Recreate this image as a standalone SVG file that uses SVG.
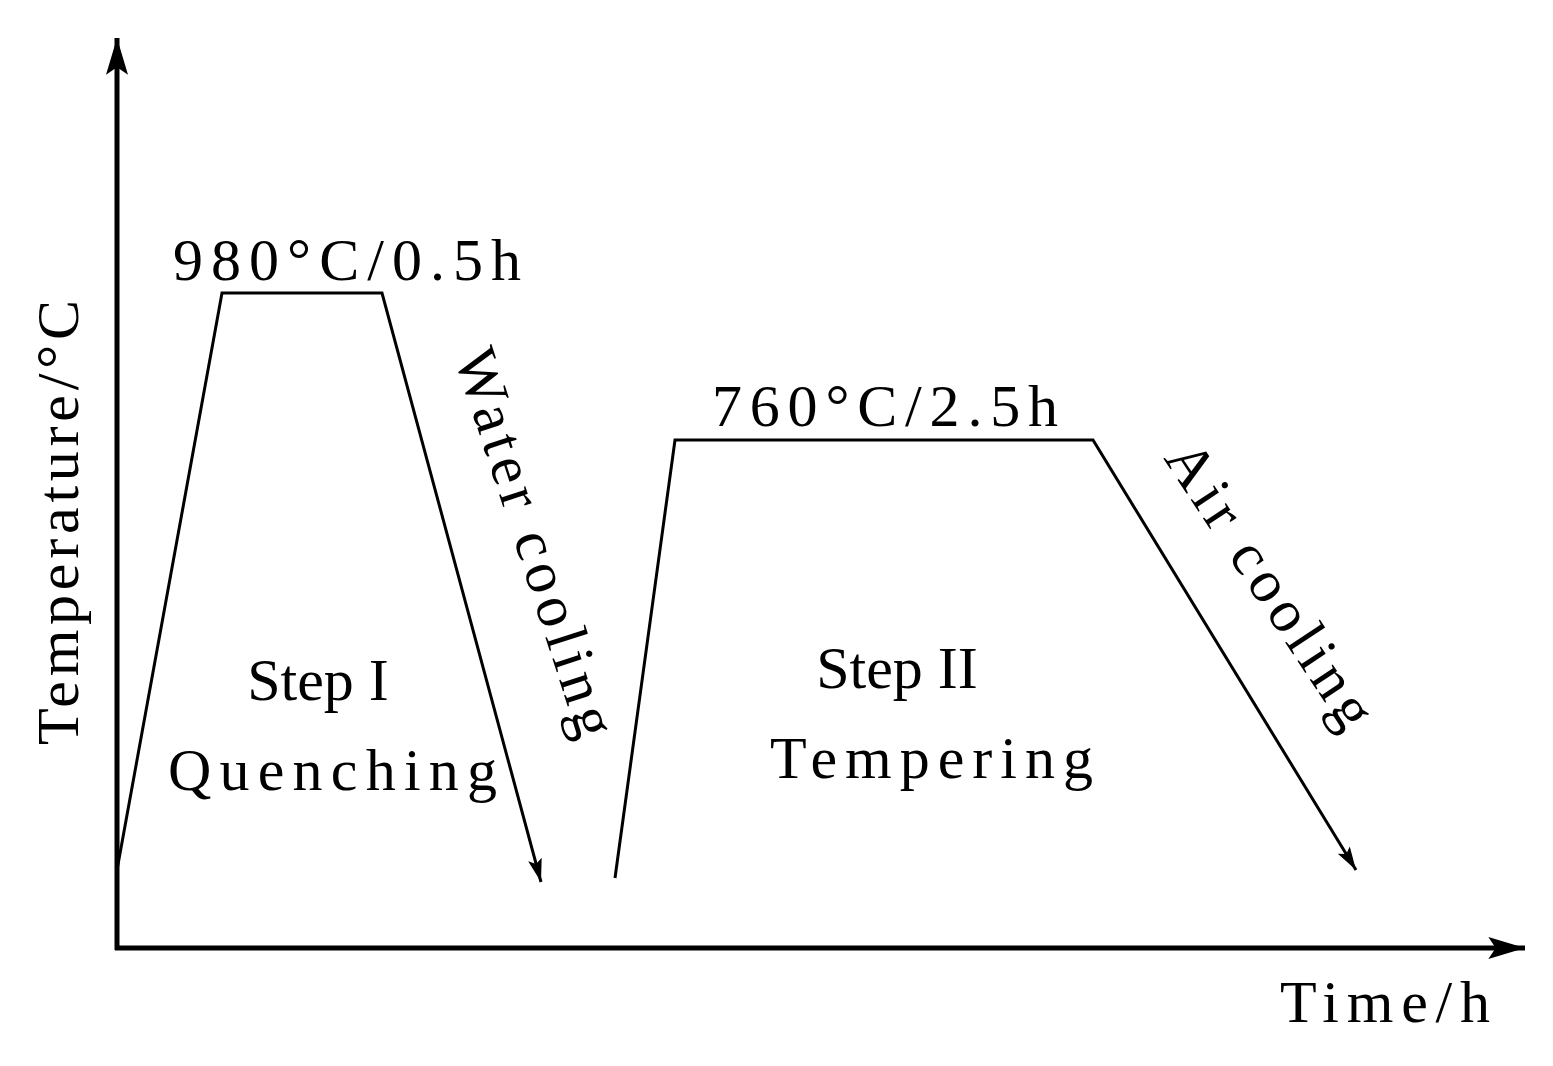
<svg xmlns="http://www.w3.org/2000/svg" width="1553" height="1066" viewBox="0 0 1553 1066">
<style>
text{font-family:"Liberation Serif","Times New Roman",serif;font-size:60px;fill:#000}
.ax{stroke:#000;stroke-width:5;fill:none}
.ln{stroke:#000;stroke-width:3;fill:none}
</style>
<defs>
<marker id="big" markerWidth="10" markerHeight="6" refX="9" refY="3" orient="auto" markerUnits="userSpaceOnUse" viewBox="0 0 10 6"><path d="M0,0 L10,3 L0,6 L3,3 Z" fill="#000"/></marker>
<marker id="sm" viewBox="0 0 10 6" refX="10" refY="3" markerWidth="26" markerHeight="14" orient="auto" markerUnits="userSpaceOnUse"><path d="M0,0 L10,3 L0,6 L2,3 Z" fill="#000"/></marker>
<marker id="axa" viewBox="0 0 10 6" refX="10" refY="3" markerWidth="80" markerHeight="22" orient="auto" markerUnits="userSpaceOnUse"><path d="M0,0 L10,3 L0,6 L2,3 Z" fill="#000"/></marker>
</defs>
<rect width="1553" height="1066" fill="#fff"/>
<g id="connectors">
<line class="ax" x1="117" y1="950" x2="117" y2="38" marker-end="url(#axa)"/>
<line class="ax" x1="115" y1="948" x2="1525" y2="948" marker-end="url(#axa)"/>
<polyline class="ln" points="117,870 222,293 382,293 541,882" marker-end="url(#sm)"/>
<polyline class="ln" points="615,878 675,440 1093,440 1356,870" marker-end="url(#sm)"/>
</g>
<g id="labels">
<text x="173" y="280" textLength="348">980°C/0.5h</text>
<text x="712" y="426" textLength="346">760°C/2.5h</text>
<text x="318" y="700" text-anchor="middle">Step I</text>
<text x="168" y="790" textLength="329">Quenching</text>
<text x="897" y="688" text-anchor="middle">Step II</text>
<text x="770" y="778" textLength="323">Tempering</text>
<text x="1280" y="1022" textLength="210">Time/h</text>
<text transform="translate(78,745) rotate(-90)" textLength="445">Temperature/°C</text>
<text transform="translate(454,356) rotate(72)" textLength="405">Water cooling</text>
<text transform="translate(1163,458) rotate(56.5)" textLength="330">Air cooling</text>
</g>
</svg>
